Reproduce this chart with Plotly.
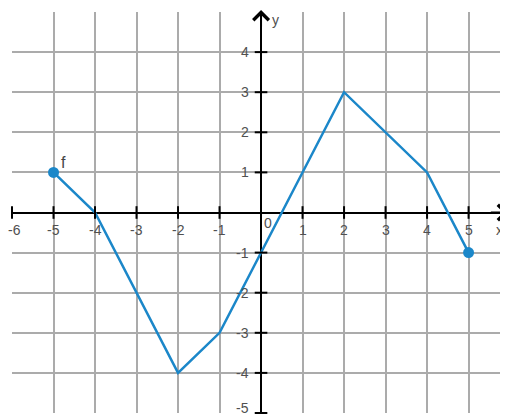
import plotly.graph_objects as go

# piecewise linear function f
x_vals = [-5, -4, -2, -1, 2, 4, 5]
y_vals = [1, 0, -4, -3, 3, 1, -1]

x_ticks = [-6, -5, -4, -3, -2, -1, 1, 2, 3, 4, 5]
y_ticks = [-5, -4, -3, -2, -1, 1, 2, 3, 4]

LINE_BLUE = '#1b87c9'
GRID = '#ababab'
TXT = '#505050'

fig = go.Figure()

# the function graph
fig.add_trace(go.Scatter(
    x=x_vals, y=y_vals, mode='lines',
    line=dict(color=LINE_BLUE, width=2.5),
    hoverinfo='skip'
))
# closed endpoints
fig.add_trace(go.Scatter(
    x=[x_vals[0], x_vals[-1]], y=[y_vals[0], y_vals[-1]], mode='markers',
    marker=dict(color=LINE_BLUE, size=11),
    cliponaxis=False, hoverinfo='skip'
))

# tick marks crossing the axes
fig.add_trace(go.Scatter(
    x=x_ticks, y=[0] * len(x_ticks), mode='markers',
    marker=dict(symbol='line-ns', size=9, line=dict(color='black', width=2)),
    cliponaxis=False, hoverinfo='skip'
))
fig.add_trace(go.Scatter(
    x=[0] * len(y_ticks), y=y_ticks, mode='markers',
    marker=dict(symbol='line-ew', size=9, line=dict(color='black', width=2)),
    cliponaxis=False, hoverinfo='skip'
))

annotations = []
for t in x_ticks:
    # leftmost label nudged in so it is not cut by the page edge
    annotations.append(dict(x=t, y=0, text=str(t), showarrow=False,
                            xanchor='center', yanchor='middle',
                            xshift=2 if t == x_ticks[0] else 0, yshift=-17))
for t in y_ticks:
    # lowest label nudged up so it stays on the page
    annotations.append(dict(x=0, y=t, text=str(t), showarrow=False,
                            xanchor='right', yanchor='middle', xshift=-10,
                            yshift=5 if t == y_ticks[0] else 0))
annotations.append(dict(x=0, y=0, text='0', showarrow=False,
                        xanchor='center', yanchor='middle', xshift=7, yshift=-10))
annotations.append(dict(x=5.95, y=0, text='x', showarrow=False,
                        xanchor='right', yanchor='middle', xshift=-3, yshift=-17))
annotations.append(dict(x=0, y=5, text='y', showarrow=False,
                        xanchor='center', yanchor='middle', xshift=14, yshift=-8))
annotations.append(dict(x=x_vals[0], y=y_vals[0], text='f', showarrow=False,
                        font=dict(size=16, color='#444444'),
                        xanchor='center', yanchor='middle', xshift=10, yshift=10))

# axis arrows
annotations.append(dict(x=5.95, y=0, ax=5.5, ay=0, xref='x', yref='y',
                        axref='x', ayref='y', text='', showarrow=True,
                        arrowhead=4, arrowsize=1.5, arrowwidth=2, arrowcolor='black'))
annotations.append(dict(x=0, y=5.05, ax=0, ay=4.6, xref='x', yref='y',
                        axref='x', ayref='y', text='', showarrow=True,
                        arrowhead=4, arrowsize=1.5, arrowwidth=2, arrowcolor='black'))

# page body has an 8px margin, so the figure is made 8px smaller
fig.update_layout(
    width=500, height=409, autosize=False,
    margin=dict(l=4, r=0, t=4, b=4),
    plot_bgcolor='white', paper_bgcolor='white',
    showlegend=False,
    font=dict(family='Liberation Sans, Arial, sans-serif', size=14, color=TXT),
    annotations=annotations,
)
fig.update_xaxes(range=[-6, 5.95], dtick=1, tick0=0, showgrid=True,
                 gridcolor=GRID, gridwidth=2, showticklabels=False, ticks='',
                 zeroline=True, zerolinecolor='black', zerolinewidth=2,
                 showline=False, fixedrange=True)
fig.update_yaxes(range=[-5, 5], dtick=1, tick0=0, showgrid=True,
                 gridcolor=GRID, gridwidth=2, showticklabels=False, ticks='',
                 zeroline=True, zerolinecolor='black', zerolinewidth=2,
                 showline=False, fixedrange=True)

fig.write_html("out.html")
